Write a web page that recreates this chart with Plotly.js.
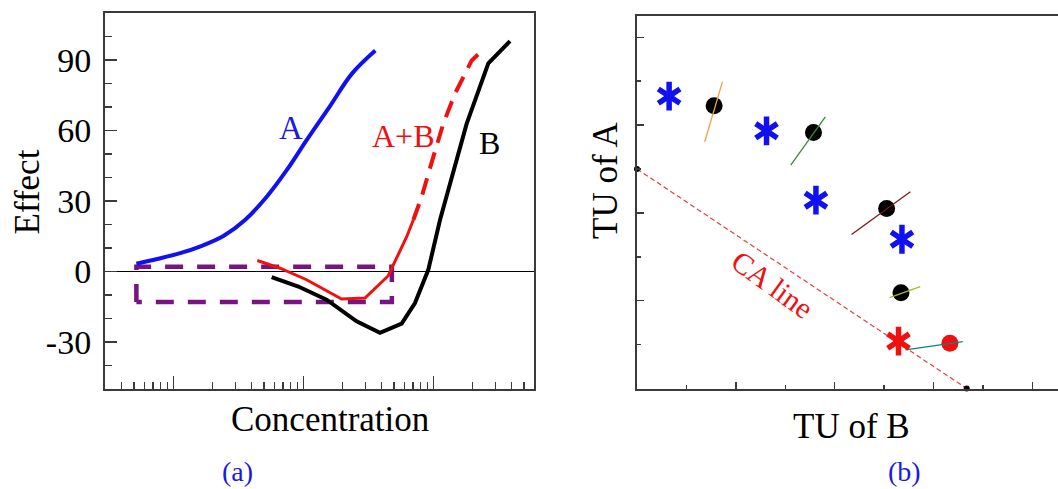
<!DOCTYPE html>
<html>
<head>
<meta charset="utf-8">
<script src="https://cdn.plot.ly/plotly-3.0.1.min.js"></script>
<style>html,body{margin:0;padding:0;background:#fff;overflow:hidden}#chart{width:1058px;height:489px}</style>
</head>
<body>
<div id="chart"></div>
<script>
// ---------- Panel (a): concentration-effect curves ----------
const aConc = [0.52, 0.75, 1.13, 1.6, 2.43, 3.56, 5.23, 7.45, 10.6, 16.0, 23.6, 35.8];
const aEffect = [3.3, 5.3, 7.8, 10.6, 15.1, 21.9, 31.8, 43.1, 55.9, 70.3, 84.1, 94.0];

const abSolidConc = [4.43, 6.62, 10.6, 19.7, 29.8, 45.1, 47.9, 62.4, 70.2];
const abSolidEffect = [4.7, 1.4, -3.5, -11.7, -11.3, -1.8, 1.4, 14.8, 21.9];

const abDashConc = [70.2, 81.4, 100, 119.4, 146.8, 197.4, 249.9];
const abDashEffect = [21.9, 31.8, 48.8, 62.9, 75.7, 89.8, 95.2];

const bConc = [5.71, 9.16, 15.1, 25.7, 38.9, 57.1, 72.3, 86.3, 91.5, 112.6, 142.5, 180.6, 209.4, 265, 389];
const bEffect = [-2.4, -6.4, -12.0, -21.2, -26.1, -22.2, -13.4, -3.5, 0.7, 21.9, 43.1, 62.9, 72.8, 88.6, 98.0];

const boxConc = [0.52, 0.52, 48, 48, 0.52];
const boxEffect = [-13, 2, 2, -13, -13];

const effectTickVals = [-30, 0, 30, 60, 90];
const effectTickText = ['-30', '0', '30', '60', '90'];

// ---------- Panel (b): TU isobologram ----------
const starTUB = [0.65, 2.62, 3.62, 5.36];
const starTUA = [6.66, 5.87, 4.29, 3.40];
const circleTUB = [1.56, 3.57, 5.05, 5.34];
const circleTUA = [6.44, 5.83, 4.10, 2.18];
const redStarTUB = [5.29];
const redStarTUA = [1.08];
const redCircleTUB = [6.33];
const redCircleTUA = [1.03];
const caTUB = [0, 6.67];
const caTUA = [5, 0];

const segOrangeB = [1.37, 1.73], segOrangeA = [5.62, 6.99];
const segGreenB = [3.11, 3.81], segGreenA = [5.09, 6.19];
const segBrownB = [4.34, 5.53], segBrownA = [3.51, 4.48];
const segOliveB = [5.11, 5.73], segOliveA = [2.07, 2.32];
const segTealB = [5.43, 6.59], segTealA = [0.88, 1.07];

const W = 1058, H = 489;
const px = v => v / W;
const py = v => 1 - v / H;
const serif = 'Liberation Serif';
const axisColor = '#3a3a3a';
const blue = '#1010f0';
const red = '#f01010';

function star(xs, ys, color, sym) {
  return {x: xs, y: ys, mode: 'markers', xaxis: 'x2', yaxis: 'y2',
    marker: {symbol: sym, size: 18, color: color, line: {color: color, width: 5.5}}};
}

const traces = [
  {x: boxConc, y: boxEffect, mode: 'lines', line: {color: 'rgb(120,20,130)', width: 4.5, dash: '18px,14px'}, xaxis: 'x', yaxis: 'y'},
  {x: aConc, y: aEffect, mode: 'lines', line: {color: blue, width: 4, shape: 'spline'}, xaxis: 'x', yaxis: 'y'},
  {x: bConc, y: bEffect, mode: 'lines', line: {color: '#000', width: 4}, xaxis: 'x', yaxis: 'y'},
  {x: abSolidConc, y: abSolidEffect, mode: 'lines', line: {color: red, width: 3}, xaxis: 'x', yaxis: 'y'},
  {x: abDashConc, y: abDashEffect, mode: 'lines', line: {color: red, width: 4, dash: '17px,10px'}, xaxis: 'x', yaxis: 'y'},

  {x: caTUB, y: caTUA, mode: 'lines', line: {color: '#e04040', width: 1.2, dash: '5px,3px'}, xaxis: 'x2', yaxis: 'y2'},
  {x: caTUB, y: caTUA, mode: 'markers', marker: {color: '#000', size: 6}, cliponaxis: false, xaxis: 'x2', yaxis: 'y2'},
  {x: circleTUB, y: circleTUA, mode: 'markers', marker: {color: '#000', size: 17}, xaxis: 'x2', yaxis: 'y2'},
  {x: redCircleTUB, y: redCircleTUA, mode: 'markers', marker: {color: red, size: 17}, xaxis: 'x2', yaxis: 'y2'},
  {x: segOrangeB, y: segOrangeA, mode: 'lines', line: {color: '#f0a040', width: 1.3}, xaxis: 'x2', yaxis: 'y2'},
  {x: segGreenB, y: segGreenA, mode: 'lines', line: {color: '#3a8a3a', width: 1.3}, xaxis: 'x2', yaxis: 'y2'},
  {x: segBrownB, y: segBrownA, mode: 'lines', line: {color: '#7a1a1a', width: 1.3}, xaxis: 'x2', yaxis: 'y2'},
  {x: segOliveB, y: segOliveA, mode: 'lines', line: {color: '#a8b830', width: 1.3}, xaxis: 'x2', yaxis: 'y2'},
  {x: segTealB, y: segTealA, mode: 'lines', line: {color: '#108080', width: 1.3}, xaxis: 'x2', yaxis: 'y2'},
  star(starTUB, starTUA, blue, 'y-up-open'),
  star(starTUB, starTUA, blue, 'y-down-open'),
  star(redStarTUB, redStarTUA, red, 'y-up-open'),
  star(redStarTUB, redStarTUA, red, 'y-down-open')
];

const tickFont = {family: serif, size: 34, color: '#000'};

const layout = {
  width: W, height: H,
  margin: {l: 0, r: 0, t: 0, b: 0},
  showlegend: false,
  paper_bgcolor: '#fff', plot_bgcolor: '#fff',
  font: {family: serif, color: '#000'},
  xaxis: {
    type: 'log', domain: [px(105), px(534)], range: [-0.5254, 2.7746],
    showline: true, linecolor: axisColor, linewidth: 2, mirror: true,
    showgrid: false, zeroline: false, showticklabels: false,
    ticks: 'inside', ticklen: 13, tickwidth: 1.5, tickcolor: axisColor, dtick: 1,
    minor: {dtick: 'D1', ticks: 'inside', ticklen: 7, tickwidth: 1.5, tickcolor: axisColor, showgrid: false},
    anchor: 'y', fixedrange: true
  },
  yaxis: {
    domain: [py(389), py(13)], range: [-50, 110],
    showline: true, linecolor: axisColor, linewidth: 2, mirror: true,
    showgrid: false, zeroline: true, zerolinecolor: '#000', zerolinewidth: 1,
    tickmode: 'array', tickvals: effectTickVals, ticktext: effectTickText,
    ticks: 'inside', ticklen: 12, tickwidth: 1.5, tickcolor: axisColor,
    ticklabelstandoff: 5, tickfont: tickFont,
    minor: {dtick: 10, tick0: 0, ticks: 'inside', ticklen: 7, tickwidth: 1.5, tickcolor: axisColor, showgrid: false},
    anchor: 'x', fixedrange: true
  },
  xaxis2: {
    domain: [px(637), 1], range: [0, 8.517],
    showline: true, linecolor: axisColor, linewidth: 2, mirror: true,
    showgrid: false, zeroline: false, showticklabels: false,
    tickmode: 'array', tickvals: [2, 4, 6, 8],
    ticks: 'inside', ticklen: 7, tickwidth: 1.5, tickcolor: axisColor,
    minor: {tickmode: 'array', tickvals: [1, 3, 5, 7], ticks: 'inside', ticklen: 4, tickwidth: 1.5, tickcolor: axisColor, showgrid: false},
    anchor: 'y2', fixedrange: true
  },
  yaxis2: {
    domain: [py(388.5), py(15.7)], range: [0, 8.492],
    showline: true, linecolor: axisColor, linewidth: 2, mirror: false,
    showgrid: false, zeroline: false, showticklabels: false,
    tickmode: 'array', tickvals: [2, 4, 6, 8],
    ticks: 'inside', ticklen: 7, tickwidth: 1.5, tickcolor: axisColor,
    minor: {tickmode: 'array', tickvals: [1, 3, 5, 7], ticks: 'inside', ticklen: 4, tickwidth: 1.5, tickcolor: axisColor, showgrid: false},
    anchor: 'x2', fixedrange: true
  },
  annotations: [
    {text: 'Effect', xref: 'paper', yref: 'paper', x: px(27.5), y: py(192), textangle: -90, showarrow: false, xanchor: 'center', yanchor: 'middle', font: {family: serif, size: 35, color: '#000'}},
    {text: 'Concentration', xref: 'paper', yref: 'paper', x: px(329.5), y: py(419), showarrow: false, xanchor: 'center', yanchor: 'middle', font: {family: serif, size: 35, color: '#000'}},
    {text: '(a)', xref: 'paper', yref: 'paper', x: px(237), y: py(471), showarrow: false, xanchor: 'center', yanchor: 'middle', font: {family: serif, size: 28, color: '#1a1ae0'}},
    {text: 'TU of A', xref: 'paper', yref: 'paper', x: px(606), y: py(181), textangle: -90, showarrow: false, xanchor: 'center', yanchor: 'middle', font: {family: serif, size: 35, color: '#000'}},
    {text: 'TU of B', xref: 'paper', yref: 'paper', x: px(851.5), y: py(426.5), showarrow: false, xanchor: 'center', yanchor: 'middle', font: {family: serif, size: 35, color: '#000'}},
    {text: '(b)', xref: 'paper', yref: 'paper', x: px(904.5), y: py(471), showarrow: false, xanchor: 'center', yanchor: 'middle', font: {family: serif, size: 28, color: '#1a1ae0'}},
    {text: 'A', xref: 'paper', yref: 'paper', x: px(290.8), y: py(128.3), showarrow: false, xanchor: 'center', yanchor: 'middle', font: {family: serif, size: 33, color: '#1a1ae0'}},
    {text: 'A+B', xref: 'paper', yref: 'paper', x: px(403), y: py(136.5), showarrow: false, xanchor: 'center', yanchor: 'middle', font: {family: serif, size: 32, color: red}},
    {text: 'B', xref: 'paper', yref: 'paper', x: px(489), y: py(143), showarrow: false, xanchor: 'center', yanchor: 'middle', font: {family: serif, size: 32, color: '#000'}},
    {text: 'CA line', xref: 'x2', yref: 'y2', x: 2.74, y: 2.36, textangle: 36, showarrow: false, xanchor: 'center', yanchor: 'middle', font: {family: serif, size: 30, color: red}}
  ]
};

Plotly.newPlot('chart', traces, layout, {staticPlot: true, displayModeBar: false});
</script>
</body>
</html>
